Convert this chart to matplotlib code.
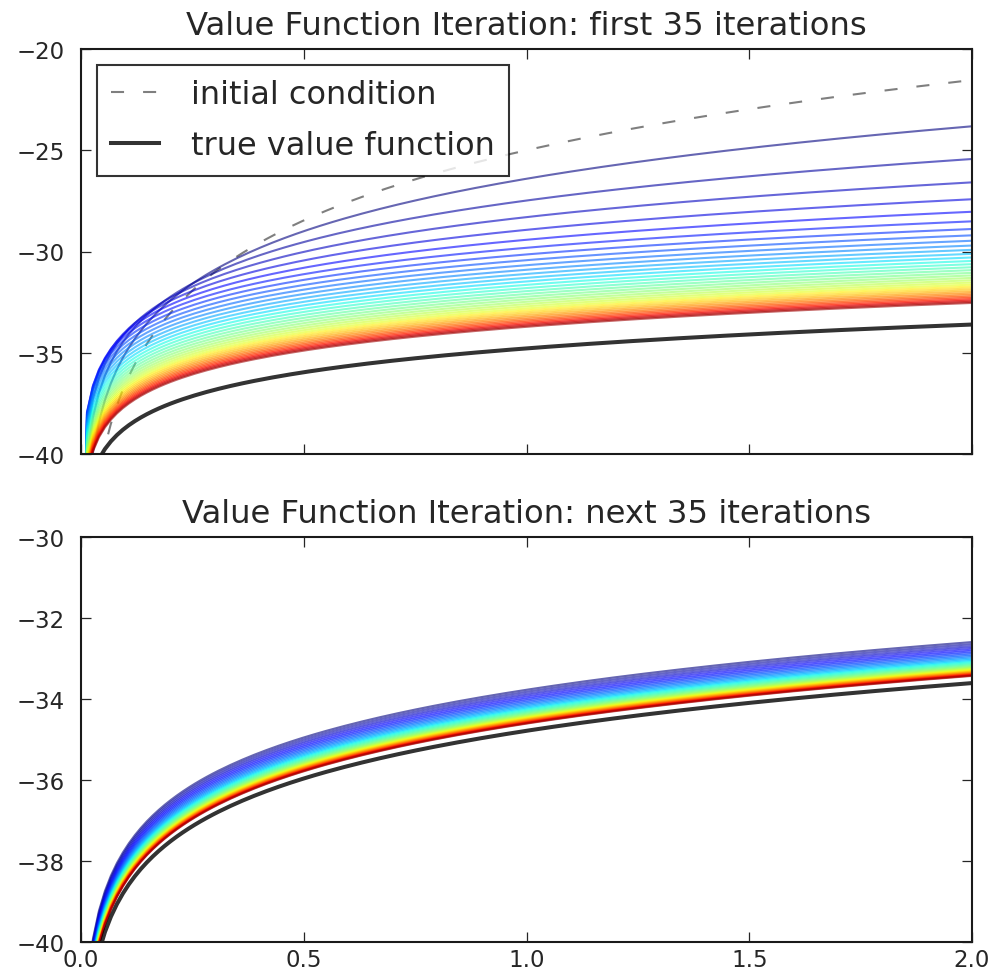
import numpy as np
import matplotlib
matplotlib.use("Agg")
import matplotlib.pyplot as plt

# ---- data: each curve is v(k) = intercept + slope * log(k) ----
grid = np.linspace(1e-6, 2, 150)          # capital grid (x axis)

init_intercept, init_slope = -25.0, 5.0   # initial condition
true_intercept, true_slope = -34.785, 1.6994  # true value function

# first 35 iterations
top_intercepts = [-26.407, -27.483, -28.302, -28.930, -29.421, -29.816, -30.145,
                  -30.428, -30.677, -30.902, -31.108, -31.300, -31.478, -31.647,
                  -31.805, -31.956, -32.098, -32.233, -32.360, -32.482, -32.597,
                  -32.707, -32.811, -32.909, -33.003, -33.092, -33.177, -33.257,
                  -33.334, -33.406, -33.475, -33.541, -33.603, -33.662, -33.718]
top_slopes = [3.7375, 2.9579, 2.4765, 2.1792, 1.9957, 1.8823, 1.8123, 1.7691,
              1.7424, 1.7260, 1.7158, 1.7095, 1.7056, 1.7032, 1.7017, 1.7008,
              1.7003, 1.6999, 1.6997, 1.6996, 1.6995, 1.6994, 1.6994, 1.6994,
              1.6994, 1.6994, 1.6994, 1.6994, 1.6993, 1.6993, 1.6993, 1.6993,
              1.6993, 1.6993, 1.6993]

# next 35 iterations
bottom_intercepts = [-33.772, -33.822, -33.871, -33.916, -33.960, -34.001, -34.040,
                     -34.078, -34.113, -34.147, -34.179, -34.209, -34.238, -34.265,
                     -34.291, -34.316, -34.339, -34.362, -34.383, -34.403, -34.422,
                     -34.440, -34.458, -34.474, -34.490, -34.504, -34.518, -34.532,
                     -34.544, -34.557, -34.568, -34.579, -34.589, -34.599, -34.608]
bottom_slopes = [1.6993] * 35

titles = ["Value Function Iteration: first 35 iterations",
          "Value Function Iteration: next 35 iterations"]
xticks = [0.0, 0.5, 1.0, 1.5, 2.0]
top_yticks = [-40, -35, -30, -25, -20]
bottom_yticks = [-40, -38, -36, -34, -32, -30]

# ---- figure ----
plt.rcParams['lines.scale_dashes'] = False
W, H = 993, 978
fig = plt.figure(figsize=(W / 100, H / 100), dpi=100)
ax1 = fig.add_axes([81 / W, 1 - 455 / H, 891 / W, 405 / H])
ax2 = fig.add_axes([81 / W, 1 - 943 / H, 891 / W, 405 / H])

logk = np.log(grid)
lw_thin = 1.5

ax1.plot(grid, init_intercept + init_slope * logk, color='k', alpha=0.5,
         lw=lw_thin, dashes=(9.4, 13.7), label='initial condition')
n = len(top_intercepts)
for i, (a, b) in enumerate(zip(top_intercepts, top_slopes)):
    ax1.plot(grid, a + b * logk, color=plt.cm.jet(i / n), lw=lw_thin, alpha=0.6)
ax1.plot(grid, true_intercept + true_slope * logk, color='k', lw=2.9, alpha=0.8,
         label='true value function')

n2 = len(bottom_intercepts)
for i, (a, b) in enumerate(zip(bottom_intercepts, bottom_slopes)):
    ax2.plot(grid, a + b * logk, color=plt.cm.jet(i / n2), lw=lw_thin, alpha=0.6)
ax2.plot(grid, true_intercept + true_slope * logk, color='k', lw=2.9, alpha=0.8)

for ax, title, yt in [(ax1, titles[0], top_yticks), (ax2, titles[1], bottom_yticks)]:
    ax.set_xlim(grid.min(), grid.max())
    ax.set_ylim(yt[0], yt[-1])
    ax.set_xticks(xticks)
    ax.set_yticks(yt)
    ax.set_title(title, fontsize=23.2, pad=10.5, color='#262626')
    ax.tick_params(direction='in', top=True, right=True, length=7.2, width=0.9,
                   labelsize=16.5, colors='#262626', labelcolor='#262626')
    ax.tick_params(axis='y', pad=12)
    ax.tick_params(axis='x', pad=4.5)
    for s in ax.spines.values():
        s.set_linewidth(1.5)
        s.set_color('#1a1a1a')

ax1.tick_params(axis='x', labelbottom=False)

leg = ax1.legend(loc='upper left', bbox_to_anchor=((97 - 81) / 891, (455 - 66) / 405),
                 borderaxespad=0, fontsize=23, frameon=True, fancybox=False,
                 handlelength=1.5, handletextpad=1.0, borderpad=0.45,
                 labelspacing=0.62)
leg.get_frame().set_edgecolor('k')
leg.get_frame().set_linewidth(1.5)
for t in leg.get_texts():
    t.set_color('#262626')

fig.savefig("out.png", dpi=100)
